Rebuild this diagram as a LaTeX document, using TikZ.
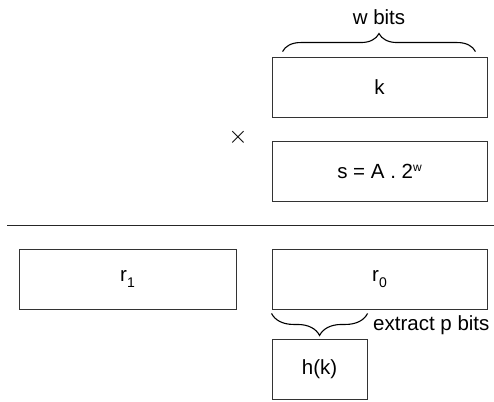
\documentclass[tikz,border=0pt]{standalone}
\usepackage{fontspec}
\setmainfont{Liberation Sans}
\usetikzlibrary{decorations.pathreplacing}
\newcommand{\lowidx}[1]{\raisebox{-6pt}{\fontsize{14}{14}\selectfont #1}}
\newcommand{\highidx}[1]{\raisebox{7pt}{\fontsize{12}{12}\selectfont #1}}
\begin{document}
\begin{tikzpicture}[x=1pt,y=-1pt,
  every node/.style={font=\fontsize{20.5}{24}\selectfont, inner sep=0pt},
  reg/.style={draw=black!80, line width=0.9pt, minimum height=60pt},
  bracestyle/.style={draw=black, line width=1.1pt, decorate,
    decoration={brace, amplitude=#1}},
]
\useasboundingbox (0,0) rectangle (494,401);

% operands of the multiplication
\node[reg, minimum width=215pt] (k) at (379.5,87) {k};
\node[reg, minimum width=215pt] (s) at (379.5,171.5) {s = A . 2\highidx{w}};
\node[font=\fontsize{28}{28}\selectfont] (times) at (238,137) {$\times$};
\node (wbits) at (379,17) {w bits};
\draw[bracestyle=18pt] ([xshift=11pt,yshift=5pt]k.north west) -- ([xshift=-12pt,yshift=5pt]k.north east);

% result line
\coordinate (ls) at (7,225);
\coordinate (le) at (494,225);
\draw[line width=0.9pt, black!85] (ls) -- (le);

% product halves
\node[reg, minimum width=217pt] (r1) at (127.5,279) {r\lowidx{1}};
\node[reg, minimum width=215pt] (r0) at (379.5,279) {r\lowidx{0}};

% extracted hash bits
\node[reg, minimum width=95pt] (h) at (319.5,369) {h(k)};
\draw[bracestyle=22pt] ([xshift=96pt,yshift=-4pt]r0.south west) -- ([yshift=-4pt]r0.south west);
\node[anchor=west] (ext) at (373,325) {extract p bits};
\end{tikzpicture}
\end{document}
